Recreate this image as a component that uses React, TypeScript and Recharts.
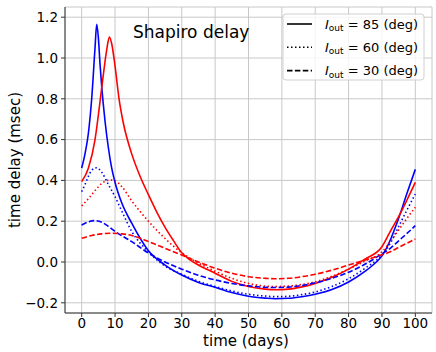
import React from 'react';
import { LineChart, Line, XAxis, YAxis, CartesianGrid } from 'recharts';

// [day, delay (msec)]
const blueI85: [number, number][] = [
  [0, 0.46], [1, 0.53], [2, 0.63], [3, 0.8], [4, 1.05], [4.5, 1.165], [5, 1.1], [5.5, 0.97],
  [6, 0.86], [6.5, 0.77], [7, 0.69], [8, 0.56], [9, 0.46], [10, 0.39], [12, 0.29], [15, 0.19],
  [20, 0.055], [25, -0.015], [30, -0.064], [35, -0.1], [40, -0.124], [45, -0.15], [50, -0.168],
  [55, -0.177], [58, -0.18], [62, -0.178], [66, -0.17], [70, -0.158], [75, -0.135], [80, -0.098],
  [85, -0.045], [88, -0.005], [90, 0.03], [92.5, 0.108], [95, 0.214], [97.5, 0.337], [100, 0.454],
];
const redI85: [number, number][] = [
  [0, 0.394], [2, 0.46], [4, 0.6], [5.3, 0.76], [6.5, 0.92], [7.5, 1.04], [8.3, 1.103], [9, 1.07],
  [10, 0.96], [11.2, 0.8], [12.5, 0.68], [15, 0.53], [17.5, 0.42], [20, 0.33], [22.5, 0.245],
  [25, 0.17], [27.5, 0.105], [30, 0.045], [32.5, 0.01], [35, -0.015], [40, -0.055], [45, -0.095],
  [50, -0.12], [55, -0.133], [58, -0.136], [62, -0.133], [66, -0.122], [70, -0.105], [75, -0.075],
  [80, -0.035], [85, 0.015], [90, 0.075], [92.5, 0.15], [95, 0.222], [97.5, 0.304], [100, 0.39],
];
const blueI60: [number, number][] = [
  [0, 0.345], [1, 0.38], [2, 0.42], [3, 0.45], [4.5, 0.462], [6, 0.44], [8, 0.38], [10, 0.32],
  [12, 0.25], [15, 0.15], [20, 0.05], [25, -0.02], [30, -0.06], [35, -0.095], [40, -0.12],
  [45, -0.142], [50, -0.158], [55, -0.167], [58, -0.17], [62, -0.168], [66, -0.16], [70, -0.147],
  [75, -0.12], [80, -0.082], [85, -0.03], [90, 0.035], [92.5, 0.092], [95, 0.173], [97.5, 0.255],
  [100, 0.333],
];
const redI60: [number, number][] = [
  [0, 0.275], [2, 0.31], [4, 0.35], [6, 0.385], [8.5, 0.402], [10, 0.398], [12, 0.37], [15, 0.3],
  [20, 0.2], [25, 0.115], [30, 0.045], [35, -0.005], [40, -0.045], [45, -0.08], [50, -0.105],
  [55, -0.118], [58, -0.12], [62, -0.118], [66, -0.11], [70, -0.097], [75, -0.07], [80, -0.035],
  [85, 0.005], [90, 0.05], [92.5, 0.1], [95, 0.157], [97.5, 0.214], [100, 0.268],
];
const blueI30: [number, number][] = [
  [0, 0.181], [2, 0.197], [3.7, 0.203], [6, 0.195], [8, 0.175], [10, 0.15], [15, 0.1], [20, 0.044],
  [25, 0.0], [30, -0.035], [35, -0.065], [40, -0.088], [45, -0.105], [50, -0.117], [55, -0.124],
  [58, -0.125], [62, -0.123], [66, -0.115], [70, -0.102], [75, -0.08], [80, -0.05], [85, -0.01],
  [90, 0.04], [92.5, 0.067], [95, 0.104], [97.5, 0.14], [100, 0.178],
];
const redI30: [number, number][] = [
  [0, 0.116], [3, 0.13], [6, 0.138], [9, 0.141], [12, 0.138], [15, 0.13], [20, 0.1], [25, 0.067],
  [30, 0.034], [35, 0.0], [40, -0.03], [45, -0.055], [50, -0.072], [55, -0.08], [58, -0.082],
  [62, -0.08], [66, -0.072], [70, -0.06], [75, -0.04], [80, -0.015], [85, 0.01], [90, 0.035],
  [92.5, 0.05], [95, 0.072], [97.5, 0.092], [100, 0.113],
];

const xTicks = [0, 10, 20, 30, 40, 50, 60, 70, 80, 90, 100];
const yTicks = [-0.2, 0, 0.2, 0.4, 0.6, 0.8, 1.0, 1.2];
const legendLabels = ['85', '60', '30'];

const FONT = '"DejaVu Sans", sans-serif';

const toRows = (arr: [number, number][]) => arr.map(([d, v]) => ({ d, v }));

const series = [
  { key: 'b85', data: toRows(blueI85), color: '#0000ff', dash: undefined },
  { key: 'r85', data: toRows(redI85), color: '#ff0000', dash: undefined },
  { key: 'b60', data: toRows(blueI60), color: '#0000ff', dash: '1.5 2.5' },
  { key: 'r60', data: toRows(redI60), color: '#ff0000', dash: '1.5 2.5' },
  { key: 'b30', data: toRows(blueI30), color: '#0000ff', dash: '5.5 2.4' },
  { key: 'r30', data: toRows(redI30), color: '#ff0000', dash: '5.5 2.4' },
];

const legendDash = [undefined, '1.5 2.5', '5.5 2.4'];

const fmt = (v: number) => v.toFixed(1).replace('-', '\u2212');

export default function App() {
  return (
    <div style={{ position: 'absolute', left: 0, top: 0, width: 436, height: 352, background: '#fff' }}>
      <LineChart width={436} height={352} margin={{ top: 7, right: 4, bottom: 0, left: 0 }}>
        <CartesianGrid stroke="#c8c8c8" strokeWidth={1} />
        <XAxis
          dataKey="d"
          type="number"
          domain={[-5, 105]}
          ticks={xTicks}
          allowDataOverflow
          height={39}
          tickSize={4}
          tickMargin={1.5}
          stroke="#333"
          tick={{ fill: '#000', fontSize: 13.5, fontFamily: FONT }}
        />
        <XAxis xAxisId="top" orientation="top" type="number" domain={[-5, 105]} height={0} tick={false} tickLine={false} stroke="#333" />
        <YAxis
          type="number"
          domain={[-0.25, 1.25]}
          ticks={yTicks}
          allowDataOverflow
          width={65}
          tickSize={4}
          tickMargin={3}
          stroke="#333"
          tickFormatter={fmt}
          tick={{ fill: '#000', fontSize: 13.5, fontFamily: FONT }}
        />
        <YAxis yAxisId="right" orientation="right" type="number" domain={[-0.25, 1.25]} width={0} tick={false} tickLine={false} stroke="#333" />
        {series.map((s) => (
          <Line
            key={s.key}
            data={s.data}
            dataKey="v"
            type="monotone"
            stroke={s.color}
            strokeWidth={1.6}
            strokeDasharray={s.dash}
            dot={false}
            activeDot={false}
            isAnimationActive={false}
          />
        ))}
      </LineChart>
      <svg width={436} height={352} style={{ position: 'absolute', left: 0, top: 0, pointerEvents: 'none' }} fontFamily={FONT}>
        <text x={133} y={37.5} fontSize={17} fill="#000">Shapiro delay</text>
        <text x={246} y={346} fontSize={15} fill="#000" textAnchor="middle">time (days)</text>
        <text x={20} y={160} fontSize={15} fill="#000" textAnchor="middle" transform="rotate(-90 20 160)">time delay (msec)</text>
        <rect x={283} y={14} width={141} height={66} rx={3} fill="#fff" fillOpacity={0.8} stroke="#d0d0d0" strokeWidth={1} />
        {legendLabels.map((lab, i) => {
          const cy = 24 + i * 23.3;
          return (
            <g key={lab}>
              <line x1={287} x2={312} y1={cy} y2={cy} stroke="#000" strokeWidth={1.6} strokeDasharray={legendDash[i]} />
              <text x={325} y={cy + 4.5} fontSize={13} fill="#000">
                <tspan fontStyle="italic">I</tspan>
                <tspan fontSize={9} dy={2.5}>out</tspan>
                <tspan dy={-2.5}>{` = ${lab} (deg)`}</tspan>
              </text>
            </g>
          );
        })}
      </svg>
    </div>
  );
}
